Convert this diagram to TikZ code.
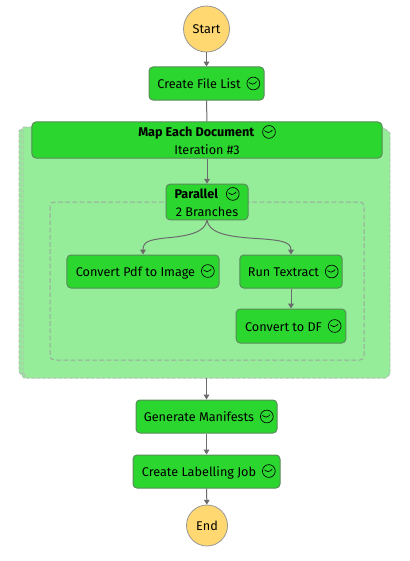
\documentclass[tikz,border=0pt]{standalone}
\usepackage{fontspec}
\setmainfont{Fira Sans}
\usetikzlibrary{arrows.meta}
\definecolor{stategreen}{HTML}{2BD62E}
\definecolor{mapgreen}{HTML}{95ED9A}
\definecolor{startyellow}{HTML}{FFD872}
\definecolor{edgegrey}{HTML}{6B6B6B}
\definecolor{dashgrey}{HTML}{9AA89A}
\tikzset{
    state/.style={draw=edgegrey!70!stategreen, fill=stategreen, rounded corners=1mm, line width=0.25mm, font=\fontsize{9}{12.6}\selectfont, align=center, inner sep=0pt},
    terminal/.style={circle, draw=edgegrey!70, fill=startyellow, line width=0.2mm, font=\fontsize{9}{11}\selectfont, inner sep=0pt},
    link/.style={-{Triangle[length=1.2mm,width=1.4mm]}, edgegrey, line width=0.25mm},
    stackedge/.style={draw=dashgrey!75!white, dash pattern=on 1mm off 0.35mm, line width=0.2mm, fill=mapgreen},
    branchbox/.style={draw=dashgrey, dash pattern=on 1.2mm off 0.6mm, line width=0.25mm, rounded corners=1mm}
}
\newcommand{\okmark}{\tikz[baseline=-0.75ex, x=1mm, y=1mm]{\draw[line width=0.16mm, black] (0,0) circle (1.6mm); \draw[line width=0.16mm, black] (-0.8,0.05) -- (-0.2,-0.6) -- (0.85,0.5);}}
\newcommand{\oklabel}[1]{\hspace*{1.1mm}#1\hspace{1.5mm}\okmark}
\begin{document}
\begin{tikzpicture}[x=0.25mm, y=-0.25mm]
    \useasboundingbox (0,0) rectangle (410,561);
    % stacked map background
    \filldraw[stackedge] (19,130) -- (381,130) -- (385,133) -- (385,378) -- (24,378) -- (19,372) -- cycle;
    \filldraw[stackedge] (21,129) -- (385,129) -- (388,131) -- (388,376) -- (25,376) -- (21,372) -- cycle;
    \filldraw[stackedge] (23,127) -- (382,127) -- (390,133) -- (390,374) -- (386,378) -- (27,378) -- (23,372) -- cycle;
    \coordinate (mapbottom) at (206.5,378);
    \draw[branchbox] (50,202) rectangle (364,360);
    % states
    \node[terminal, minimum size=11.5mm] (start) at (206.5,29) {Start};
    \node[state, minimum width=28.75mm, minimum height=8.25mm] (files) at (206.5,83.5) {\oklabel{Create File List}};
    \node[state, minimum width=87.5mm, minimum height=9mm] (map) at (207,140) {\textbf{Map Each Document}\hspace{2mm}\okmark\\Iteration \#3};
    \node[state, minimum width=20.5mm, minimum height=8.9mm] (parallel) at (207,202) {\textbf{Parallel}\hspace{2mm}\okmark\\2 Branches};
    \node[state, minimum width=38mm, minimum height=8.25mm] (pdf) at (143,271.5) {\oklabel{Convert Pdf to Image}};
    \node[state, minimum width=25.6mm, minimum height=8.25mm] (textract) at (291,271.5) {\oklabel{Run Textract}};
    \node[state, minimum width=27.4mm, minimum height=8.5mm] (df) at (291,326) {\oklabel{Convert to DF}};
    \node[state, minimum width=35.25mm, minimum height=8.25mm] (manifests) at (206.5,416.5) {\oklabel{Generate Manifests}};
    \node[state, minimum width=36.75mm, minimum height=8.25mm] (labelling) at (206.5,471.5) {\oklabel{Create Labelling Job}};
    \node[terminal, minimum size=10.25mm] (end) at (207,525.5) {End};
    % connectors
    \draw[link] (start) -- (files);
    \draw[edgegrey, line width=0.25mm] (files) -- (map);
    \draw[link] (map) -- (parallel);
    \draw[link] (parallel.south) .. controls (205,232) and (190,236) .. (165,238) .. controls (150,240) and (143,241) .. (pdf.north);
    \draw[link] (parallel.south) .. controls (209,232) and (224,236) .. (249,238) .. controls (280,240) and (291,241) .. (textract.north);
    \draw[link] (textract) -- (df);
    \draw[link] (mapbottom) -- (manifests);
    \draw[link] (manifests) -- (labelling);
    \draw[link] (labelling) -- (end);
\end{tikzpicture}
\end{document}
